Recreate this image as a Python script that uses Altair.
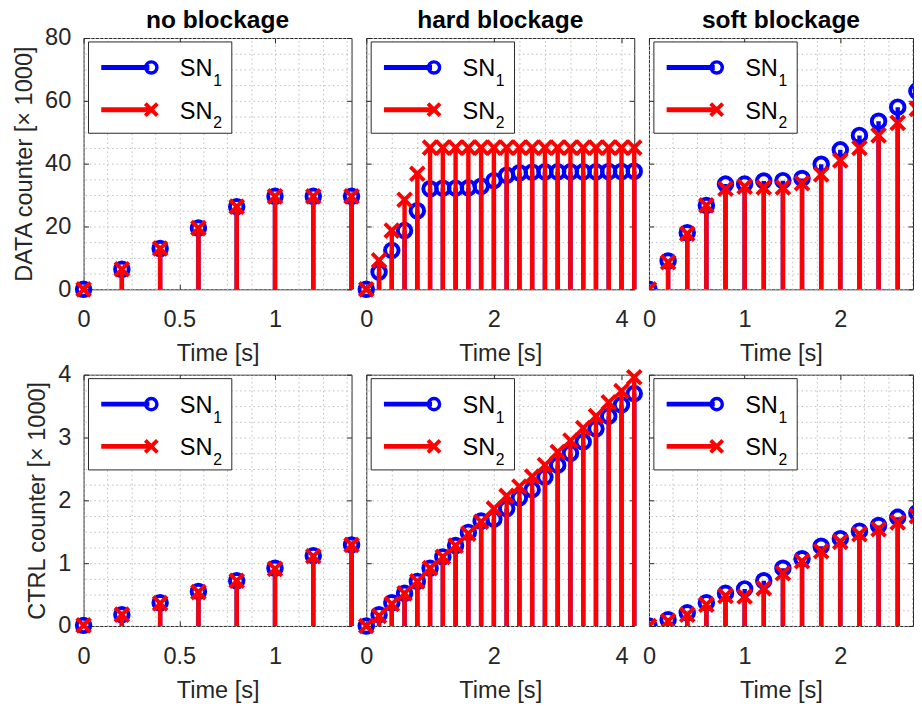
import altair as alt
import pandas as pd

# ---------------- data (counters in thousands) ----------------
t_nb = [0.0, 0.2, 0.4, 0.6, 0.8, 1.0, 1.2, 1.4]
data_nb_sn1 = [0.0, 6.4, 13.0, 19.5, 26.3, 29.6, 29.6, 29.6]
data_nb_sn2 = [0.0, 6.4, 13.0, 19.5, 26.3, 29.6, 29.6, 29.6]
ctrl_nb_sn1 = [0.01, 0.18, 0.37, 0.55, 0.72, 0.92, 1.12, 1.29]
ctrl_nb_sn2 = [0.01, 0.18, 0.36, 0.54, 0.72, 0.91, 1.11, 1.29]

t_hb = [0.0, 0.2, 0.4, 0.6, 0.8, 1.0, 1.2, 1.4, 1.6, 1.8, 2.0,
        2.2, 2.4, 2.6, 2.8, 3.0, 3.2, 3.4, 3.6, 3.8, 4.0, 4.2]
data_hb_sn1 = [0.0, 5.5, 12.4, 18.7, 25.0, 32.0, 32.2, 32.2, 32.3, 32.8, 34.6,
               36.3, 37.1, 37.3, 37.4, 37.4, 37.4, 37.4, 37.4, 37.5, 37.5, 37.6]
data_hb_sn2 = [0.0, 9.2, 18.7, 28.5, 36.8, 45.1, 45.1, 45.1, 45.1, 45.1, 45.1,
               45.1, 45.1, 45.1, 45.1, 45.1, 45.1, 45.1, 45.1, 45.1, 45.1, 45.1]
ctrl_hb_sn1 = [0.0, 0.18, 0.37, 0.52, 0.71, 0.92, 1.10, 1.28, 1.49, 1.67, 1.70,
               1.87, 2.04, 2.17, 2.37, 2.56, 2.75, 2.93, 3.14, 3.34, 3.52, 3.70]
ctrl_hb_sn2 = [0.0, 0.16, 0.35, 0.52, 0.71, 0.92, 1.10, 1.28, 1.47, 1.66, 1.87,
               2.07, 2.22, 2.38, 2.56, 2.77, 2.95, 3.15, 3.34, 3.56, 3.74, 3.96]

t_sb = [0.0, 0.2, 0.4, 0.6, 0.8, 1.0, 1.2, 1.4, 1.6, 1.8, 2.0, 2.2, 2.4, 2.6, 2.8]
data_sb_sn1 = [0.0, 9.0, 18.0, 26.7, 33.5, 33.5, 34.5, 34.6, 35.3, 39.8, 44.4, 49.0, 53.5, 58.0, 63.1]
data_sb_sn2 = [0.0, 8.6, 17.7, 26.7, 32.0, 32.7, 32.4, 32.4, 33.8, 36.6, 41.0, 45.0, 49.0, 53.0, 57.4]
ctrl_sb_sn1 = [0.0, 0.10, 0.21, 0.37, 0.52, 0.59, 0.72, 0.92, 1.07, 1.27, 1.39, 1.51, 1.60, 1.73, 1.80]
ctrl_sb_sn2 = [0.0, 0.08, 0.18, 0.34, 0.48, 0.47, 0.60, 0.84, 1.03, 1.19, 1.34, 1.46, 1.54, 1.65, 1.75]

panel_titles = ["no blockage", "hard blockage", "soft blockage"]
row_titles = ["DATA counter [× 1000]", "CTRL counter [× 1000]"]
x_title = "Time [s]"
legend_names = ["SN", "SN"]
legend_subs = ["1", "2"]

# tick values
x_major = [[0, 0.5, 1], [0, 2, 4], [0, 1, 2]]
x_minor = [[0, 0.125, 0.25, 0.375, 0.5, 0.625, 0.75, 0.875, 1, 1.125, 1.25, 1.375],
           [0, 0.4, 0.8, 1.2, 1.6, 2, 2.4, 2.8, 3.2, 3.6, 4],
           [0, 0.25, 0.5, 0.75, 1, 1.25, 1.5, 1.75, 2, 2.25, 2.5, 2.75]]
x_max = [1.4, 4.2, 2.76]
y_major = [[0, 20, 40, 60, 80], [0, 1, 2, 3, 4]]
y_minor = [[0, 5, 10, 15, 20, 25, 30, 35, 40, 45, 50, 55, 60, 65, 70, 75, 80],
           [0, 0.25, 0.5, 0.75, 1, 1.25, 1.5, 1.75, 2, 2.25, 2.5, 2.75, 3, 3.25, 3.5, 3.75, 4]]
y_max = [80, 4]

# ---------------- style ----------------
FONT = "Liberation Sans"
TXT = "#262626"
GRID = "#bdbdbd"
BLUE = "#0000ff"
RED = "#ff0000"
WIDTHS = [273, 273, 269]
HEIGHT = 256
XPATH = "M-1,-1L1,1M-1,1L1,-1"


def legend_layers():
    box = alt.Chart(pd.DataFrame({"k": [0]})).mark_rect(
        fill="white", stroke=TXT, strokeWidth=1
    ).encode(x=alt.value(5), x2=alt.value(151), y=alt.value(4), y2=alt.value(97))
    layers = [box]
    colors = [BLUE, RED]
    ys = [30, 73]
    for i in range(2):
        d = pd.DataFrame({"label": [legend_names[i]], "sub": [legend_subs[i]]})
        line = alt.Chart(d).mark_rule(color=colors[i], strokeWidth=5).encode(
            x=alt.value(18), x2=alt.value(67), y=alt.value(ys[i]))
        if i == 0:
            mk = alt.Chart(d).mark_point(shape="circle", filled=False, size=130,
                                         strokeWidth=3.5, color=BLUE, opacity=1)
        else:
            mk = alt.Chart(d).mark_point(shape=XPATH, filled=False, size=150,
                                         strokeWidth=4, color=RED, opacity=1)
        mk = mk.encode(x=alt.value(69), y=alt.value(ys[i]))
        txt = alt.Chart(d).mark_text(font=FONT, fontSize=24, align="left",
                                     baseline="alphabetic", color="black").encode(
            x=alt.value(98), y=alt.value(ys[i] + 9), text="label:N")
        sub = alt.Chart(d).mark_text(font=FONT, fontSize=16, align="left",
                                     baseline="alphabetic", color="black").encode(
            x=alt.value(132), y=alt.value(ys[i] + 19), text="sub:N")
        layers += [line, mk, txt, sub]
    return layers


def panel(col, row, t, s1, s2):
    clip = col == 2
    d1 = pd.DataFrame({"t": t, "v": s1})
    d2 = pd.DataFrame({"t": t, "v": s2})
    xs = alt.Scale(domain=[0, x_max[col]], nice=False, zero=False)
    ys = alt.Scale(domain=[0, y_max[row]], nice=False, zero=False)

    grid_x = alt.Axis(orient="top", values=x_minor[col], grid=True, gridColor=GRID,
                      gridDash=[1.5, 3], gridWidth=1, labels=False, ticks=False,
                      domain=False, title=None)
    grid_y = alt.Axis(orient="right", values=y_minor[row], grid=True, gridColor=GRID,
                      gridDash=[1.5, 3], gridWidth=1, labels=False, ticks=False,
                      domain=False, title=None)
    main_x = alt.Axis(orient="bottom", values=x_major[col], grid=False, ticks=False,
                      tickSize=0, domain=False, title=x_title, labelPadding=19,
                      titlePadding=11, labelFlush=False, labelOverlap=False,
                      format="~g")
    main_y = alt.Axis(orient="left", values=y_major[row], grid=False, ticks=False,
                      tickSize=0, domain=False,
                      labelOpacity=1 if col == 0 else 0,
                      title=row_titles[row] if col == 0 else None,
                      labelPadding=13, titlePadding=8, labelOverlap=False,
                      labelFlush=False)
    tick_b = alt.Axis(orient="bottom", values=x_major[col], grid=False, labels=False,
                      ticks=True, tickSize=5, offset=-5, domain=False, title=None)
    tick_l = alt.Axis(orient="left", values=y_major[row], grid=False, labels=False,
                      ticks=True, tickSize=5, offset=-5, domain=False, title=None)
    tick_t = alt.Axis(orient="top", values=x_major[col], grid=False, labels=False,
                      ticks=True, tickSize=5, offset=-5, domain=False, title=None)
    tick_r = alt.Axis(orient="right", values=y_major[row], grid=False, labels=False,
                      ticks=True, tickSize=5, offset=-5, domain=False, title=None)

    stems1 = alt.Chart(d1).mark_rule(color=BLUE, strokeWidth=4.5, clip=clip).encode(
        x=alt.X("t:Q", scale=xs, axis=grid_x),
        y=alt.Y("v:Q", scale=ys, axis=grid_y),
        y2=alt.datum(0))
    circ = alt.Chart(d1).mark_point(shape="circle", filled=False, size=190,
                                    strokeWidth=4, color=BLUE, opacity=1,
                                    clip=clip).encode(
        x=alt.X("t:Q", scale=xs, axis=tick_b),
        y=alt.Y("v:Q", scale=ys, axis=tick_l))
    stems2 = alt.Chart(d2).mark_rule(color=RED, strokeWidth=4.5, clip=clip).encode(
        x=alt.X("t:Q", scale=xs, axis=main_x),
        y=alt.Y("v:Q", scale=ys, axis=main_y),
        y2=alt.datum(0))
    cross = alt.Chart(d2).mark_point(shape=XPATH, filled=False, size=200,
                                     strokeWidth=4, color=RED, opacity=1,
                                     clip=clip).encode(
        x=alt.X("t:Q", scale=xs, axis=tick_t),
        y=alt.Y("v:Q", scale=ys, axis=tick_r))

    props = dict(width=WIDTHS[col], height=HEIGHT)
    if row == 0:
        props["title"] = alt.TitleParams(panel_titles[col], font=FONT, fontSize=25,
                                         fontWeight="bold", color="black", offset=-7)
    return alt.layer(stems1, circ, stems2, cross, *legend_layers()).resolve_axis(
        x="independent", y="independent").properties(**props)


p = [
    panel(0, 0, t_nb, data_nb_sn1, data_nb_sn2),
    panel(1, 0, t_hb, data_hb_sn1, data_hb_sn2),
    panel(2, 0, t_sb, data_sb_sn1, data_sb_sn2),
    panel(0, 1, t_nb, ctrl_nb_sn1, ctrl_nb_sn2),
    panel(1, 1, t_hb, ctrl_hb_sn1, ctrl_hb_sn2),
    panel(2, 1, t_sb, ctrl_sb_sn1, ctrl_sb_sn2),
]

chart = alt.concat(*p, columns=3, spacing={"row": 87, "column": 15},
                   bounds="flush").properties(
    padding={"left": 4, "top": -7, "right": 0, "bottom": 0}
).configure_view(stroke=TXT, strokeWidth=1).configure_axis(
    labelFont=FONT, labelFontSize=24, labelColor=TXT,
    titleFont=FONT, titleFontSize=24, titleFontWeight="normal", titleColor=TXT,
    tickColor=TXT, tickWidth=1
)

chart.save("out.html", embed_options={"renderer": "svg", "actions": False})
